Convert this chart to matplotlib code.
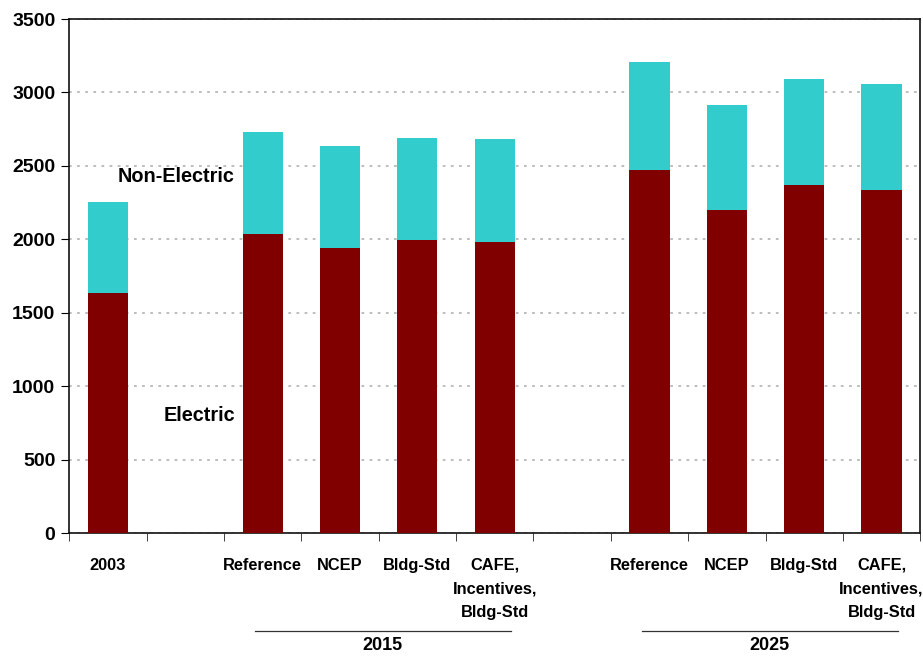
import numpy as np
import matplotlib
matplotlib.use('Agg')
import matplotlib.pyplot as plt

# slots with '' are blank gaps between the groups
categories = ['2003', '', 'Reference', 'NCEP', 'Bldg-Std', 'CAFE,\nIncentives,\nBldg-Std',
              '', 'Reference', 'NCEP', 'Bldg-Std', 'CAFE,\nIncentives,\nBldg-Std']
electric = [1635, np.nan, 2035, 1942, 1995, 1981, np.nan, 2471, 2199, 2369, 2335]
non_electric = [620, np.nan, 695, 693, 694, 701, np.nan, 735, 715, 722, 722]
groups = ['2015', '2025']
group_members = [[2, 3, 4, 5], [7, 8, 9, 10]]

plt.rcParams['font.family'] = ['Liberation Sans', 'DejaVu Sans']
plt.rcParams['font.weight'] = 'bold'

fig = plt.figure(figsize=(9.23, 6.56), dpi=100)
ax = fig.add_axes([0.075, 0.1875, 0.922, 0.7835])

x = np.arange(len(categories))
elec = np.array(electric, dtype=float)
nonel = np.array(non_electric, dtype=float)
ok = ~np.isnan(elec)

ax.bar(x[ok], elec[ok], width=0.52, color='#800000', zorder=3)
ax.bar(x[ok], nonel[ok], width=0.52, bottom=elec[ok], color='#33CCCC', zorder=3)

ax.set_xlim(-0.5, len(categories) - 0.5)
ax.set_ylim(0, 3500)
ax.set_yticks(range(0, 3501, 500))
ax.yaxis.grid(True, color='#b8b8b8', linestyle=(0, (1.5, 3)), linewidth=1.3, zorder=0)
ax.set_axisbelow(True)

ax.set_xticks(x)
ax.set_xticklabels(categories, fontsize=11.8, fontweight='bold', linespacing=1.7, va='top')
ax.set_xticks(np.arange(len(categories) + 1) - 0.5, minor=True)
ax.tick_params(axis='x', which='major', length=0, pad=18)
ax.tick_params(axis='x', which='minor', length=6, direction='out', color='#222222')
ax.tick_params(axis='y', length=6, direction='out', labelsize=14, pad=4)
for lab in ax.get_yticklabels():
    lab.set_fontweight('bold')

for sp in ax.spines.values():
    sp.set_color('#111111')
    sp.set_linewidth(1.2)

# group labels below the categories
trans = ax.get_xaxis_transform()
for name, members in zip(groups, group_members):
    lo, hi = min(members) - 0.1, max(members) + 0.21
    ax.plot([lo, hi], [-0.19, -0.19], color='#333333', linewidth=0.9,
            transform=trans, clip_on=False)
    ax.text((lo + hi) / 2, -0.219, name, transform=trans, ha='center', va='center',
            fontsize=13, fontweight='bold')

ax.text(0.88, 2430, 'Non-Electric', ha='center', va='center', fontsize=14.3, fontweight='bold')
ax.text(1.18, 797, 'Electric', ha='center', va='center', fontsize=14.3, fontweight='bold')

fig.savefig('out.png', dpi=100)
